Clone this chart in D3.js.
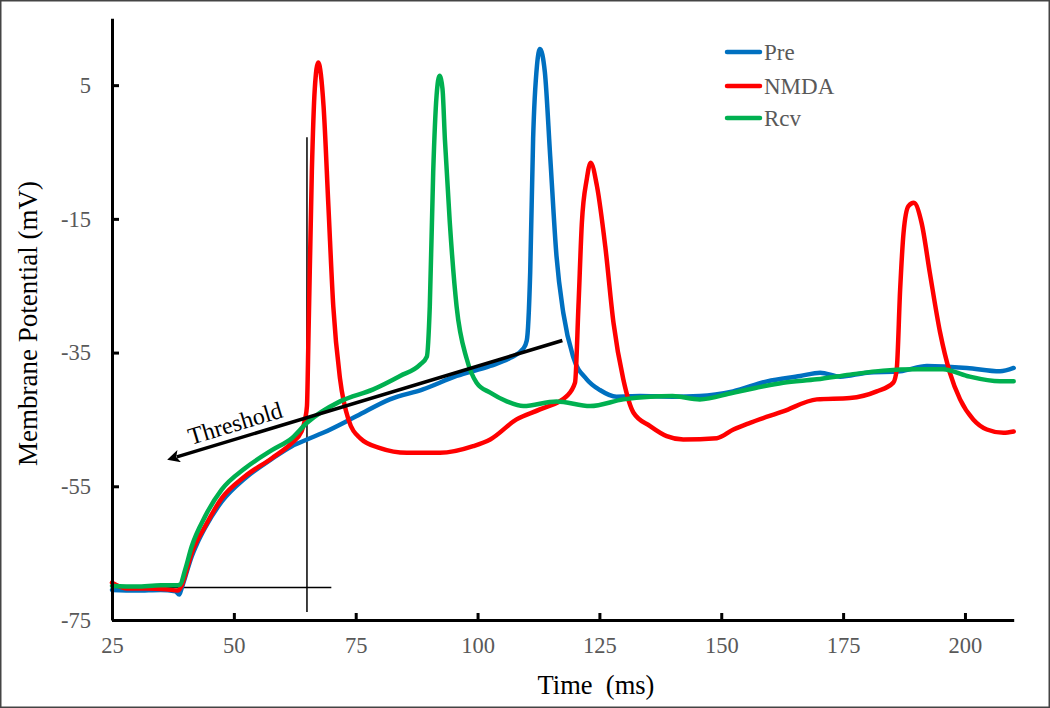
<!DOCTYPE html>
<html>
<head>
<meta charset="utf-8">
<script src="https://cdn.jsdelivr.net/npm/d3@7"></script>
<style>
  html, body { margin: 0; padding: 0; background: #fff; }
  svg { display: block; }
</style>
</head>
<body>
<svg id="chart" width="1050" height="708"></svg>
<script>
// ---------------- DATA ----------------
const seriesNames = ["Pre", "NMDA", "Rcv"];

const preTime = [25, 30, 35, 38, 38.8, 39.3, 40, 41.35, 42.5, 44.1, 47.5, 52.3, 57.8, 61.9, 65, 68.3, 75.2, 82, 88.8, 95.7, 102.6, 106.7, 109.4, 110.1, 110.8, 111.4, 112.2, 112.8, 113.8, 114.9, 116.2, 117.6, 119.6, 122.4, 125.1, 128.5, 133.3, 140, 145.6, 152.4, 159.4, 166.2, 170.3, 174.4, 179.9, 186.7, 192.2, 200.4, 207.2, 210];
const preValues = [-70.5, -70.6, -70.5, -70.7, -71.2, -70.2, -68.6, -65.5, -63.5, -61.2, -57.3, -53.8, -50.9, -49.0, -48.0, -47.0, -44.5, -42.0, -40.5, -38.5, -37.0, -35.8, -34.4, -33.2, -23, -3, 8, 10.4, 7, -5.6, -20.6, -29.1, -35.6, -39.0, -40.6, -41.6, -41.5, -41.6, -41.5, -40.8, -39.3, -38.5, -38.0, -38.6, -38.0, -37.8, -37.0, -37.3, -37.8, -37.3];

const nmdaTime = [25, 26, 28, 32, 36, 38.5, 39.2, 40, 41.35, 44.1, 47.5, 52.3, 57.8, 61.9, 63.9, 64.6, 65.0, 65.3, 66.0, 66.6, 67.3, 68.4, 69.4, 70.4, 71.8, 73.5, 75.9, 80, 85.5, 92.3, 99.1, 102.6, 108, 112.8, 118.3, 120.0, 120.7, 121.4, 122.4, 123.2, 124.5, 126.2, 127.9, 129.9, 132, 135.4, 138.8, 142.2, 149.1, 152.5, 155.9, 162.7, 169.6, 176.4, 181.9, 185.3, 186.0, 186.7, 187.4, 188.4, 189.5, 191.1, 192.8, 194.9, 196.9, 199, 201.7, 204.5, 207.9, 210];
const nmdaValues = [-69.4, -69.8, -70.3, -70.3, -70.4, -70.6, -70.0, -68.3, -65.0, -61.0, -56.8, -53.5, -50.8, -48.5, -46.8, -45.0, -43.0, -33, -8, 4.4, 8.4, 1.9, -13.1, -28.1, -39.0, -45.0, -47.8, -49.3, -50.0, -50.0, -49.0, -48.0, -45.0, -43.5, -41.5, -39.5, -28.1, -15.6, -9.1, -6.6, -10.1, -19.1, -30.6, -39.0, -44.0, -46.0, -47.5, -48.0, -47.8, -46.5, -45.5, -43.8, -42.0, -41.8, -40.8, -39.5, -37.5, -25.6, -17.1, -13.1, -12.6, -15.6, -23.1, -32.0, -38.0, -42.0, -45.0, -46.5, -47.0, -46.8];

const rcvTime = [25, 30, 35, 38.5, 39.0, 40, 41.35, 44.1, 47.5, 52.3, 57.8, 61.9, 65, 71.8, 78.6, 84.1, 88.2, 89.6, 90.2, 90.9, 91.6, 92.2, 92.8, 93.3, 94.3, 95.7, 97.8, 99.8, 102.6, 106, 109.4, 116.2, 123.1, 129.9, 135.4, 140, 145.6, 152.4, 157, 162.7, 169.6, 176.4, 183.2, 190.2, 195.5, 200.4, 207.2, 210];
const rcvValues = [-69.9, -70.0, -69.8, -69.8, -69.7, -67.5, -64.0, -59.5, -55.5, -52.3, -49.6, -47.8, -45.5, -42.3, -40.5, -38.5, -36.8, -35.6, -28.1, -8.0, 3.5, 6.4, 4.5, -3.1, -15.5, -28.1, -36.0, -39.5, -41.0, -42.3, -43.0, -42.3, -43.0, -42.0, -41.6, -41.5, -42.0, -41.0, -40.3, -39.5, -39.0, -38.3, -37.7, -37.5, -37.5, -38.5, -39.3, -39.3];

const xTicks = [25, 50, 75, 100, 125, 150, 175, 200];
const yTicks = [-75, -55, -35, -15, 5];
const xDomain = [25, 210];
const yDomain = [-75, 15];

// annotations (data coordinates)
const thresholdArrow = [[117.4, -33.2], [38.3, -50.6]];
const verticalMarker = [[65, -2.8], [65, -73.8]];
const baselineMarker = [[25, -70.15], [70, -70.15]];
const thresholdLabel = "Threshold";
const xTitle = "Time  (ms)";
const yTitle = "Membrane Potential (mV)";

// ---------------- DRAW ----------------
const colors = ["#0070C0", "#FF0000", "#00B050"];
const serif = "'Liberation Serif', 'Times New Roman', serif";
const svg = d3.select("#chart");

svg.append("rect").attr("x", 0.75).attr("y", 0.75).attr("width", 1048.5).attr("height", 706.5)
  .attr("fill", "#fff").attr("stroke", "#444").attr("stroke-width", 1.5);

const x = d3.scaleLinear().domain(xDomain).range([112, 1013.7]);
const y = d3.scaleLinear().domain(yDomain).range([620, 18.3]);

const series = [
  { name: seriesNames[0], t: preTime, v: preValues, color: colors[0] },
  { name: seriesNames[1], t: nmdaTime, v: nmdaValues, color: colors[1] },
  { name: seriesNames[2], t: rcvTime, v: rcvValues, color: colors[2] }
];

const line = d3.line().x(d => x(d[0])).y(d => y(d[1])).curve(d3.curveMonotoneX);

// annotation thin lines (behind)
const thin = d3.line().x(d => x(d[0])).y(d => y(d[1]));
svg.append("path").attr("d", thin(verticalMarker)).attr("stroke", "#000").attr("stroke-width", 1.5).attr("fill", "none");
svg.append("path").attr("d", thin(baselineMarker)).attr("stroke", "#000").attr("stroke-width", 1.5).attr("fill", "none");

series.forEach(s => {
  const pts = s.t.map((t, i) => [t, s.v[i]]);
  svg.append("path").attr("d", line(pts)).attr("fill", "none")
    .attr("stroke", s.color).attr("stroke-width", 4.5).attr("stroke-linejoin", "round").attr("stroke-linecap", "round");
});

// threshold arrow on top
svg.append("defs").append("marker").attr("id", "arrow")
  .attr("viewBox", "0 0 10 10").attr("refX", 2).attr("refY", 5)
  .attr("markerWidth", 4.2).attr("markerHeight", 3.6).attr("markerUnits", "strokeWidth")
  .attr("orient", "auto")
  .append("path").attr("d", "M0,0 L10,5 L0,10 L2.5,5 Z").attr("fill", "#000");
svg.append("path").attr("d", thin(thresholdArrow)).attr("stroke", "#000").attr("stroke-width", 3.5)
  .attr("fill", "none").attr("marker-end", "url(#arrow)");

const p0 = thresholdArrow[0], p1 = thresholdArrow[1];
const ang = Math.atan2(y(p0[1]) - y(p1[1]), x(p0[0]) - x(p1[0])) * 180 / Math.PI;
svg.append("text").attr("transform", `translate(237.5,431) rotate(${ang})`)
  .attr("text-anchor", "middle").attr("font-family", serif).attr("font-size", 24).attr("fill", "#000")
  .text(thresholdLabel);

// axes
const fmt = d => String(d);
const xAxis = d3.axisBottom(x).tickValues(xTicks).tickFormat(fmt).tickSizeInner(-7).tickSizeOuter(0).tickPadding(17);
const yAxis = d3.axisLeft(y).tickValues(yTicks).tickFormat(fmt).tickSizeInner(-7).tickSizeOuter(0).tickPadding(21);

const gx = svg.append("g").attr("transform", `translate(0,${y(-75)})`).call(xAxis);
const gy = svg.append("g").attr("transform", `translate(${x(25)},0)`).call(yAxis);
[gx, gy].forEach(g => {
  g.select(".domain").attr("stroke", "#000").attr("stroke-width", 3);
  g.selectAll(".tick line").attr("stroke", "#000").attr("stroke-width", 3);
  g.selectAll(".tick text").attr("font-family", serif).attr("font-size", 22.5).attr("fill", "#595959");
});

// titles
svg.append("text").attr("x", 596).attr("y", 694).attr("text-anchor", "middle")
  .attr("font-family", serif).attr("font-size", 26.5).attr("fill", "#000")
  .style("white-space", "pre").text(xTitle);
svg.append("text").attr("transform", "translate(37,323.5) rotate(-90)").attr("text-anchor", "middle")
  .attr("font-family", serif).attr("font-size", 27).attr("fill", "#000").text(yTitle);

// legend
const legendY = [52, 86, 118];
series.forEach((s, i) => {
  svg.append("line").attr("x1", 727).attr("x2", 760).attr("y1", legendY[i]).attr("y2", legendY[i])
    .attr("stroke", s.color).attr("stroke-width", 4.5).attr("stroke-linecap", "round");
  svg.append("text").attr("x", 764).attr("y", legendY[i] + 7.5)
    .attr("font-family", serif).attr("font-size", 23).attr("fill", "#595959").text(s.name);
});
</script>
</body>
</html>
